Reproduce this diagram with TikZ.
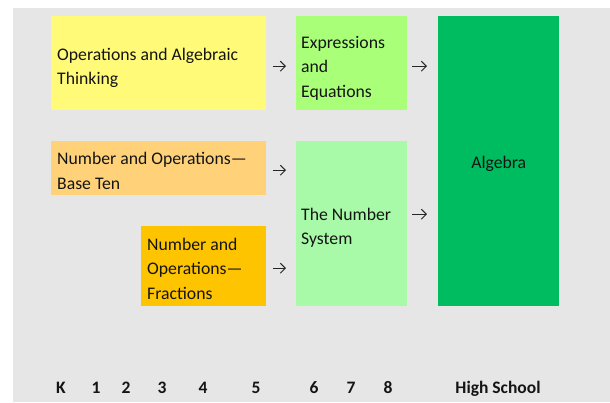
\documentclass[tikz,border=0pt]{standalone}
\usepackage{fontspec}
\setmainfont{Carlito}
\usetikzlibrary{arrows.meta}
\definecolor{bggray}{RGB}{230,230,230}
\definecolor{cyel}{RGB}{255,250,120}
\definecolor{corg}{RGB}{255,210,122}
\definecolor{cgold}{RGB}{255,196,0}
\definecolor{cexp}{RGB}{170,255,120}
\definecolor{cnum}{RGB}{168,250,168}
\definecolor{calg}{RGB}{0,188,96}
\tikzset{
  box/.style={draw=none, inner sep=0pt, anchor=north west},
  lbl/.style={anchor=west, align=left, inner sep=0pt, font=\fontsize{17.7}{24.5}\selectfont, text=black!92},
  grade/.style={font=\fontsize{17.5}{20}\selectfont\bfseries, text=black!92, inner sep=0pt, anchor=base},
  arr/.style={-{Straight Barb[length=5pt,width=10pt]}, line width=1pt, black!85},
}
\begin{document}
\begin{tikzpicture}[x=1pt,y=-1pt]
\useasboundingbox (0,0) rectangle (610,402);
\fill[white] (0,0) rectangle (610,402);
\fill[bggray] (13,8) rectangle (610,402);
% boxes
\node[box, fill=cyel, minimum width=215pt, minimum height=94pt] (oat) at (51,16) {};
\node[box, fill=corg, minimum width=215pt, minimum height=54pt] (nbt) at (51,141) {};
\node[box, fill=cgold, minimum width=125pt, minimum height=80pt] (nf) at (141,226) {};
\node[box, fill=cexp, minimum width=111pt, minimum height=94pt] (ee) at (296,16) {};
\node[box, fill=cnum, minimum width=111pt, minimum height=165pt] (ns) at (296,141) {};
\node[box, fill=calg, minimum width=121pt, minimum height=290pt] (alg) at (438,16) {};
% labels
\node[lbl] (toat) at (57,68) {Operations and Algebraic\\Thinking};
\node[lbl] (tnbt) at (57,171) {Number and Operations—\\Base Ten};
\node[lbl] (tnf) at (147,268.5) {Number and\\Operations—\\Fractions};
\node[lbl] (tee) at (301,68) {Expressions\\and\\Equations};
\node[lbl] (tns) at (301,228) {The Number\\System};
\node[lbl, anchor=center] (talg) at ([yshift=-3pt]alg.center) {Algebra};
% arrows
\draw[arr] ([shift={(7,3)}]oat.east) -- ([shift={(-10,3)}]ee.west);
\draw[arr] ([shift={(7,2)}]nbt.east) -- ([shift={(-10,2)}]nbt.east -| ns.west);
\draw[arr] ([shift={(7,2)}]nf.east) -- ([shift={(-10,2)}]nf.east -| ns.west);
\draw[arr] ([shift={(5,3)}]ee.east) -- ([shift={(-11,3)}]alg.west |- ee.east);
\draw[arr] ([shift={(5,-9.5)}]ns.east) -- ([shift={(-11,-9.5)}]alg.west |- ns.east);
% grades
\node[grade] (gk) at (61,393) {K};
\node[grade] (g1) at (96,393) {1};
\node[grade] (g2) at (126,393) {2};
\node[grade] (g3) at (162,393) {3};
\node[grade] (g4) at (203,393) {4};
\node[grade] (g5) at (256,393) {5};
\node[grade] (g6) at (314,393) {6};
\node[grade] (g7) at (351,393) {7};
\node[grade] (g8) at (388,393) {8};
\node[grade] (ghs) at (498,393) {High School};
\end{tikzpicture}
\end{document}
